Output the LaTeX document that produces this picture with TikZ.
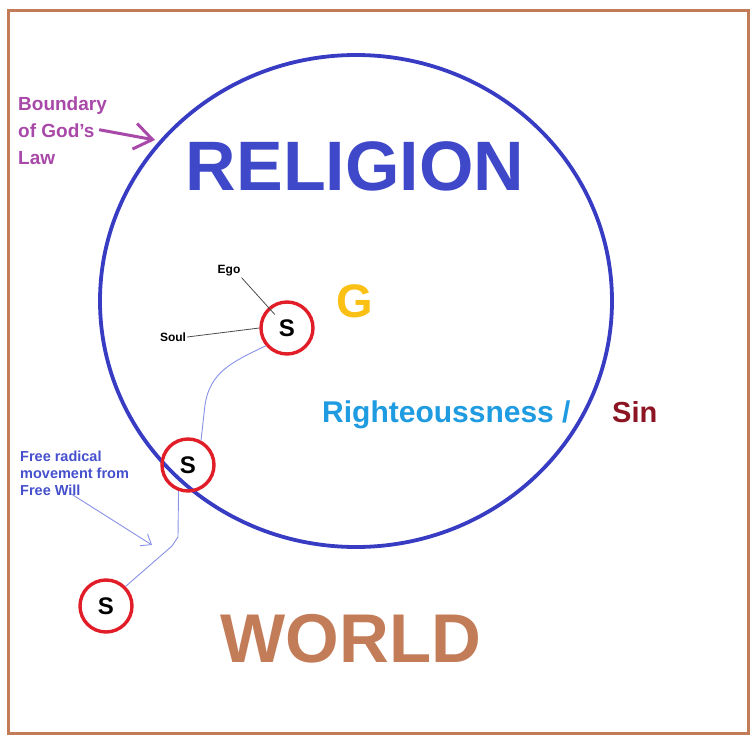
\documentclass[tikz,border=0pt]{standalone}
\usepackage{fontspec}
\setmainfont{Liberation Sans}
\usetikzlibrary{arrows.meta}
\definecolor{frameb}{RGB}{194,124,88}
\definecolor{ringb}{RGB}{55,60,195}
\definecolor{relb}{RGB}{62,72,200}
\definecolor{soulr}{RGB}{225,30,40}
\definecolor{godg}{RGB}{250,192,20}
\definecolor{rightb}{RGB}{30,155,225}
\definecolor{sinr}{RGB}{140,20,35}
\definecolor{lawp}{RGB}{168,72,168}
\definecolor{walkb}{RGB}{135,145,230}
\definecolor{freeb}{RGB}{70,80,205}
\tikzstyle{soul}=[circle,line width=3.4pt,draw=soulr,minimum size=52pt,inner sep=0pt,font=\fontsize{24}{24}\selectfont\bfseries]
\tikzstyle{walk}=[line width=0.9pt,draw=walkb]
\tikzstyle{tag}=[font=\fontsize{12}{12}\selectfont\bfseries,inner sep=1pt]
\tikzstyle{big}=[inner sep=0pt]

\begin{document}
\begin{tikzpicture}[x=1pt,y=-1pt]
\useasboundingbox (0,0) rectangle (756,742);

\draw[frameb,line width=3pt] (8,10) rectangle (748,733);
\draw[ringb,line width=3.8pt] (356,301) ellipse [x radius=256, y radius=246];

\node[big,text=relb,font=\fontsize{70}{70}\selectfont\bfseries,anchor=base] (religion) at (355,190) {RELIGION};
\node[big,text=godg,font=\fontsize{47}{47}\selectfont\bfseries,anchor=base] (god) at (355,317) {G};
\node[big,text=rightb,font=\fontsize{30}{30}\selectfont\bfseries,anchor=base west] (right) at (322,422) {Righteoussness /};
\node[big,text=sinr,font=\fontsize{29}{29}\selectfont\bfseries,anchor=base west] (sin) at (612,422) {Sin};
\node[big,text=frameb,font=\fontsize{69}{69}\selectfont\bfseries,anchor=base] (world) at (351,662) {WORLD};

\node[soul] (s1) at (287,328) {S};
\node[soul] (s2) at (188,465) {S};
\node[soul] (s3) at (106,606) {S};

\node[tag] (ego) at (229,271) {Ego};
\node[tag] (soulname) at (173,337) {Soul};
\draw[black!70,line width=0.8pt,shorten >=18pt] (ego.south east) -- (s1.center);
\draw[black!70,line width=0.8pt] (soulname.east) -- (s1.west);

\node[big,text=lawp,font=\fontsize{19}{27}\selectfont\bfseries,align=left,anchor=north west] (law) at (18,97) {Boundary\\of God's\\Law};
\coordinate (lawtip) at (155,140);
\draw[lawp,line width=3pt,-{Straight Barb[length=18pt,width=26pt]},shorten <=-8pt] (law.east) -- (lawtip);

\node[big,text=freeb,font=\fontsize{14.5}{17}\selectfont\bfseries,align=left,anchor=north west] (free) at (20,451) {Free radical\\movement from\\Free Will};
\coordinate (freetip) at (152,545);
\draw[walkb,line width=0.9pt,-{Straight Barb[length=9pt,width=14pt]},shorten <=-4pt] (free.south) -- (freetip);

% path of the soul
\coordinate (bend1) at (178,537);
\coordinate (bend2) at (172,546);
\draw[walk] (s1.220) .. controls (232,362) and (210,372) .. (205,405) -- (s2.62);
\draw[walk] (s2.250) -- (bend1) -- (bend2) -- (s3.45);

\end{tikzpicture}
\end{document}
